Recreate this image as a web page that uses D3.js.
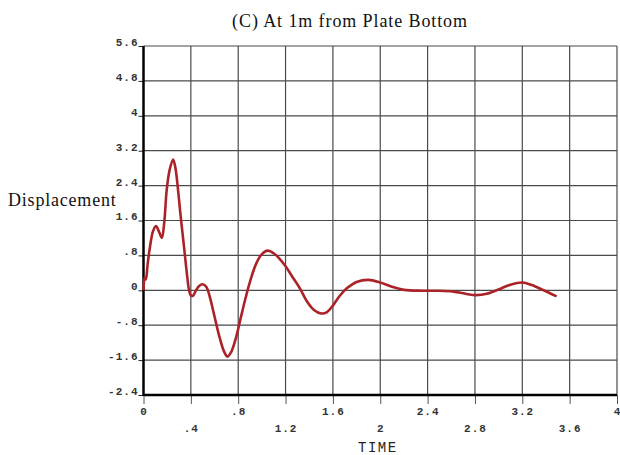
<!DOCTYPE html>
<html>
<head>
<meta charset="utf-8">
<script src="https://cdn.jsdelivr.net/npm/d3@7"></script>
<style>
  body { margin: 0; background: #fff; }
</style>
</head>
<body>
<div id="wrapper"></div>
<script>
const timeValues = [0, 0.01, 0.02, 0.035, 0.055, 0.08, 0.105, 0.13, 0.155, 0.175, 0.196, 0.22, 0.25, 0.27, 0.29, 0.31, 0.33, 0.35, 0.37, 0.385, 0.4, 0.42, 0.44, 0.47, 0.5, 0.53, 0.56, 0.6, 0.64, 0.68, 0.71, 0.74, 0.78, 0.82, 0.86, 0.9, 0.95, 1.0, 1.05, 1.1, 1.15, 1.2, 1.26, 1.32, 1.38, 1.44, 1.5, 1.55, 1.6, 1.66, 1.72, 1.8, 1.9, 2.0, 2.1, 2.2, 2.35, 2.5, 2.62, 2.72, 2.81, 2.9, 3.0, 3.1, 3.2, 3.28, 3.38, 3.49];
const dispValues = [0, 0.3, 0.25, 0.6, 1.0, 1.35, 1.47, 1.35, 1.2, 1.55, 2.3, 2.75, 3.0, 2.8, 2.35, 1.8, 1.3, 0.8, 0.3, 0.0, -0.12, -0.12, -0.02, 0.1, 0.14, 0.08, -0.15, -0.6, -1.05, -1.4, -1.52, -1.42, -1.1, -0.65, -0.2, 0.2, 0.6, 0.83, 0.91, 0.85, 0.72, 0.55, 0.3, 0.05, -0.25, -0.45, -0.53, -0.5, -0.35, -0.12, 0.05, 0.19, 0.24, 0.18, 0.08, 0.01, -0.01, -0.01, -0.03, -0.08, -0.11, -0.08, 0.02, 0.13, 0.18, 0.12, 0.0, -0.14];
const xTicks = [0, 0.4, 0.8, 1.2, 1.6, 2, 2.4, 2.8, 3.2, 3.6, 4];
const xTickLabels = ["0", ".4", ".8", "1.2", "1.6", "2", "2.4", "2.8", "3.2", "3.6", "4"];
const yTicks = [-2.4, -1.6, -0.8, 0, 0.8, 1.6, 2.4, 3.2, 4, 4.8, 5.6];
const yTickLabels = ["-2.4", "-1.6", "-.8", "0", ".8", "1.6", "2.4", "3.2", "4", "4.8", "5.6"];
const titleText = "(C) At 1m from Plate Bottom";
const yLabel = "Displacement";
const xLabel = "TIME";

const dataset = timeValues.map((t, i) => ({ t: t, v: dispValues[i] }));

let dimensions = {
  width: 620,
  height: 455,
  margin: { top: 46, right: 3, bottom: 60, left: 143.5 }
};
dimensions.boundedWidth = dimensions.width - dimensions.margin.left - dimensions.margin.right;
dimensions.boundedHeight = dimensions.height - dimensions.margin.top - dimensions.margin.bottom;

const svg = d3.select("#wrapper")
  .append("svg")
  .attr("width", dimensions.width)
  .attr("height", dimensions.height);

const bounds = svg.append("g")
  .attr("transform", `translate(${dimensions.margin.left},${dimensions.margin.top})`);

const xScale = d3.scaleLinear()
  .domain([0, 4])
  .range([0, dimensions.boundedWidth]);

const yScale = d3.scaleLinear()
  .domain([-2.4, 5.6])
  .range([dimensions.boundedHeight, 0]);

// grid
bounds.append("g")
  .selectAll("line.v")
  .data(xTicks.slice(1))
  .join("line")
  .attr("x1", d => xScale(d)).attr("x2", d => xScale(d))
  .attr("y1", 0).attr("y2", dimensions.boundedHeight)
  .attr("stroke", "#4a4a4a").attr("stroke-width", 1.2);

bounds.append("g")
  .selectAll("line.h")
  .data(yTicks.slice(1))
  .join("line")
  .attr("x1", 0).attr("x2", dimensions.boundedWidth)
  .attr("y1", d => yScale(d)).attr("y2", d => yScale(d))
  .attr("stroke", "#4a4a4a").attr("stroke-width", 1.2);

// axes
const xAxis = bounds.append("g")
  .attr("transform", `translate(0,${dimensions.boundedHeight})`)
  .call(d3.axisBottom(xScale).tickValues(xTicks).tickSize(9).tickFormat((d, i) => xTickLabels[i]));
xAxis.select(".domain").remove();
xAxis.selectAll(".tick line").attr("stroke", "#555");
xAxis.selectAll(".tick text")
  .attr("y", (d, i) => i % 2 === 0 ? 12 : 29)
  .attr("dy", "0.71em")
  .style("font-family", "'Liberation Mono', monospace")
  .style("font-size", "11px")
  .style("font-weight", "bold")
  .style("letter-spacing", "1px")
  .attr("fill", "#333");

const yAxis = bounds.append("g")
  .call(d3.axisLeft(yScale).tickValues(yTicks).tickSize(5).tickFormat((d, i) => yTickLabels[i]));
yAxis.select(".domain").remove();
yAxis.selectAll(".tick line").attr("stroke", "#222");
yAxis.selectAll(".tick text")
  .attr("x", -5)
  .attr("dy", "-0.05em")
  .style("font-family", "'Liberation Mono', monospace")
  .style("font-size", "11px")
  .style("font-weight", "bold")
  .style("letter-spacing", "1px")
  .attr("fill", "#333");

bounds.append("line")
  .attr("x1", 0).attr("x2", 0)
  .attr("y1", 0).attr("y2", dimensions.boundedHeight + 1)
  .attr("stroke", "#000").attr("stroke-width", 2.5);
bounds.append("line")
  .attr("x1", 0).attr("x2", dimensions.boundedWidth)
  .attr("y1", dimensions.boundedHeight).attr("y2", dimensions.boundedHeight)
  .attr("stroke", "#000").attr("stroke-width", 2.5);

// curve
const lineGenerator = d3.line()
  .x(d => xScale(d.t))
  .y(d => yScale(d.v))
  .curve(d3.curveCatmullRom.alpha(0.5));

bounds.append("path")
  .datum(dataset)
  .attr("d", lineGenerator)
  .attr("fill", "none")
  .attr("stroke", "#ab2328")
  .attr("stroke-width", 2.6)
  .attr("stroke-linejoin", "round");

// labels
svg.append("text")
  .attr("x", 350)
  .attr("y", 27)
  .attr("text-anchor", "middle")
  .style("font-family", "'Liberation Serif', serif")
  .style("font-size", "18px")
  .style("letter-spacing", "0.9px")
  .attr("fill", "#111")
  .text(titleText);

svg.append("text")
  .attr("x", 8)
  .attr("y", 206)
  .style("font-family", "'Liberation Serif', serif")
  .style("font-size", "18px")
  .style("letter-spacing", "0.8px")
  .attr("fill", "#111")
  .text(yLabel);

svg.append("text")
  .attr("x", 358)
  .attr("y", 452)
  .style("font-family", "'Liberation Mono', monospace")
  .style("font-size", "14px")
  .style("letter-spacing", "1.5px")
  .attr("fill", "#222")
  .text(xLabel);
</script>
</body>
</html>
